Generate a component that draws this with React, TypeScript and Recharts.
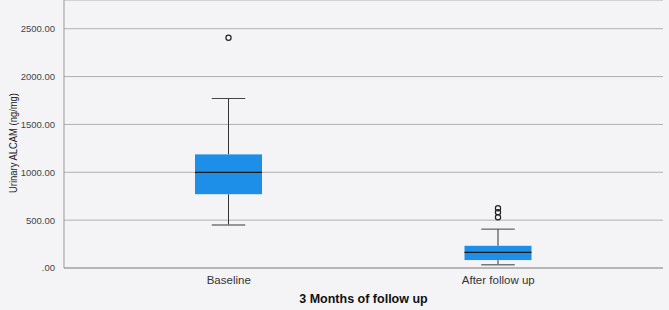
import * as React from 'react';
import { Bar, CartesianGrid, ComposedChart, XAxis, YAxis } from 'recharts';

const groups = ['Baseline', 'After follow up'];
const lowerWhisker = [448, 34];
const q1 = [771, 83];
const median = [1000, 163];
const q3 = [1187, 232];
const upperWhisker = [1771, 406];
const outliers = [[2406], [531, 583, 625]];
const yTicks = [0, 500, 1000, 1500, 2000, 2500];

const data = groups.map((name, i) => ({
  name,
  box: [q1[i], q3[i]],
  lo: lowerWhisker[i],
  med: median[i],
  hi: upperWhisker[i],
  q1: q1[i],
  q3: q3[i],
  out: outliers[i]
}));

const BoxShape = (props: any) => {
  const { x, y, width, height, payload } = props;
  const k = height / (payload.q3 - payload.q1);
  const toY = (v: number) => y + (payload.q3 - v) * k;
  const cx = x + width / 2;
  const cap = width / 4;
  return (
    <g>
      <line x1={cx} x2={cx} y1={toY(payload.hi)} y2={y} stroke="#333" strokeWidth={1} />
      <line x1={cx} x2={cx} y1={y + height} y2={toY(payload.lo)} stroke="#333" strokeWidth={1} />
      <line x1={cx - cap} x2={cx + cap} y1={toY(payload.hi)} y2={toY(payload.hi)} stroke="#444" strokeWidth={1} />
      <line x1={cx - cap} x2={cx + cap} y1={toY(payload.lo)} y2={toY(payload.lo)} stroke="#777" strokeWidth={1.5} />
      <rect x={x} y={y} width={width} height={height} fill="#1e8fe8" />
      <line x1={x} x2={x + width} y1={toY(payload.med)} y2={toY(payload.med)} stroke="#1a1a1a" strokeWidth={1.2} />
      {payload.out.map((v: number, j: number) => (
        <circle key={j} cx={cx} cy={toY(v)} r={2.6} fill="none" stroke="#222" strokeWidth={1.2} />
      ))}
    </g>
  );
};

const YLabel = (props: any) => {
  const { viewBox } = props;
  const cy = viewBox.y + viewBox.height / 2 + 9;
  return (
    <text
      x={14}
      y={cy}
      transform={`rotate(-90, 14, ${cy})`}
      textAnchor="middle"
      dominantBaseline="middle"
      fontSize={10.5}
      fill="#222"
      fontFamily="Liberation Sans Narrow, Arial Narrow, Liberation Sans, sans-serif"
      textLength={100}
      lengthAdjust="spacingAndGlyphs"
    >
      Urinary ALCAM (ng/mg)
    </text>
  );
};

export default function App() {
  return (
    <div style={{ position: 'fixed', left: 0, top: 0, width: 669, height: 310, background: '#f4f4f6' }}>
      <ComposedChart
        width={669}
        height={310}
        data={data}
        margin={{ top: 0, right: 6, left: 0, bottom: 0 }}
        style={{ fontFamily: 'Liberation Sans, Arial, sans-serif' }}
      >
        <CartesianGrid horizontal vertical={false} stroke="#b0b0b0" />
        <XAxis
          dataKey="name"
          padding={{ left: 30, right: 30 }}
          tickLine={false}
          stroke="#999"
          height={42}
          tick={{ fontSize: 11.5, fill: '#333' }}
          tickMargin={2}
          label={{ value: '3 Months of follow up', position: 'insideBottom', offset: 7, fontSize: 12.5, fontWeight: 'bold', fill: '#111' }}
        />
        <YAxis
          domain={[0, 2800]}
          ticks={yTicks}
          width={64}
          tickLine={false}
          stroke="#999"
          tick={{ fontSize: 9.5, fill: '#444' }}
          tickMargin={3}
          tickFormatter={(v: number) => (v === 0 ? '.00' : v.toFixed(2))}
          label={<YLabel />}
        />
        <Bar dataKey="box" barSize={67} shape={<BoxShape />} isAnimationActive={false} />
      </ComposedChart>
    </div>
  );
}
